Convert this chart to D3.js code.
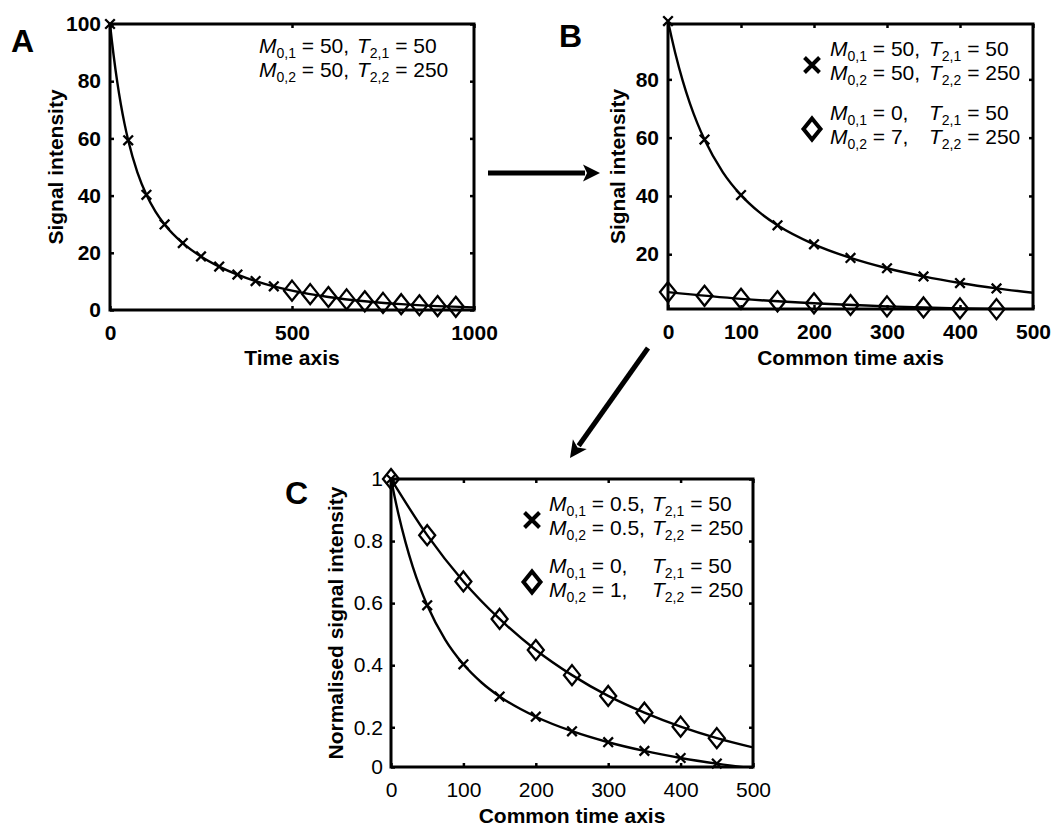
<!DOCTYPE html>
<html>
<head>
<meta charset="utf-8">
<script src="https://cdn.jsdelivr.net/npm/d3@7"></script>
<style>
  body { margin: 0; background: #fff; }
  text { font-family: "Liberation Sans", Arial, sans-serif; fill: #000; white-space: pre; }
</style>
</head>
<body>
<svg id="fig" width="1051" height="826"></svg>
<script>
// ---- data ----
const lineTimeFull = [0, 5, 10, 20, 30, 40, 50, 75, 100, 125, 150, 200, 250, 300, 350, 400, 450, 500, 600, 700, 800, 900, 1000];
const lineSignalFull = [100, 94.25, 88.98, 79.68, 71.79, 65.08, 59.33, 48.20, 40.29, 34.43, 29.93, 23.39, 18.73, 15.18, 12.38, 10.11, 8.27, 6.77, 4.54, 3.04, 2.04, 1.37, 0.92];

const crossTimes = [0, 50, 100, 150, 200, 250, 300, 350, 400, 450];
const crossSignal = [100, 59.33, 40.29, 29.93, 23.39, 18.73, 15.18, 12.38, 10.11, 8.27];

const diamondTimesA = [500, 550, 600, 650, 700, 750, 800, 850, 900, 950];
const diamondSignalA = [6.77, 5.54, 4.54, 3.71, 3.04, 2.49, 2.04, 1.67, 1.37, 1.12];

const lineTimeCommon = [0, 5, 10, 20, 30, 40, 50, 75, 100, 125, 150, 200, 250, 300, 350, 400, 450, 500];
const lineSignalCommon = [100, 94.25, 88.98, 79.68, 71.79, 65.08, 59.33, 48.20, 40.29, 34.43, 29.93, 23.39, 18.73, 15.18, 12.38, 10.11, 8.27, 6.77];

const diamondTimes = [0, 50, 100, 150, 200, 250, 300, 350, 400, 450];
const diamondSignalB = [7.00, 5.73, 4.69, 3.84, 3.15, 2.58, 2.11, 1.73, 1.41, 1.16];
const diamondLineTimeB = [0, 100, 200, 300, 400, 500];
const diamondLineSignalB = [7.00, 4.69, 3.15, 2.11, 1.41, 0.95];

const crossNorm = [1, 0.593, 0.403, 0.299, 0.234, 0.187, 0.152, 0.124, 0.101, 0.083];
const lineNorm = [1, 0.9425, 0.8898, 0.7968, 0.7179, 0.6508, 0.5933, 0.4820, 0.4029, 0.3443, 0.2993, 0.2339, 0.1873, 0.1518, 0.1238, 0.1011, 0.0827, 0.0677];
const diamondNorm = [1, 0.819, 0.670, 0.549, 0.449, 0.368, 0.301, 0.247, 0.202, 0.165];
const diamondLineTimeC = [0, 50, 100, 150, 200, 250, 300, 350, 400, 450, 500];
const diamondLineNorm = [1, 0.819, 0.670, 0.549, 0.449, 0.368, 0.301, 0.247, 0.202, 0.165, 0.135];

const ticksA_x = [0, 500, 1000];
const ticksA_y = [0, 20, 40, 60, 80, 100];
const ticksB_x = [0, 100, 200, 300, 400, 500];
const ticksB_y = [20, 40, 60, 80];
const ticksC_x = [0, 100, 200, 300, 400, 500];
const ticksC_y = [0.072, 0.2, 0.4, 0.6, 0.8, 1];
const tickLabelsC_y = ['0', '0.2', '0.4', '0.6', '0.8', '1'];

const legendA = [
    {m: '0,1', mv: ' = 50,', t: '2,1', tv: ' = 50'},
    {m: '0,2', mv: ' = 50,', t: '2,2', tv: ' = 250'}
];
const legendB1 = [
    {m: '0,1', mv: ' = 50,', t: '2,1', tv: ' = 50'},
    {m: '0,2', mv: ' = 50,', t: '2,2', tv: ' = 250'}
];
const legendB2 = [
    {m: '0,1', mv: ' = 0,', t: '2,1', tv: ' = 50'},
    {m: '0,2', mv: ' = 7,', t: '2,2', tv: ' = 250'}
];
const legendC1 = [
    {m: '0,1', mv: ' = 0.5,', t: '2,1', tv: ' = 50'},
    {m: '0,2', mv: ' = 0.5,', t: '2,2', tv: ' = 250'}
];
const legendC2 = [
    {m: '0,1', mv: ' = 0,', t: '2,1', tv: ' = 50'},
    {m: '0,2', mv: ' = 1,', t: '2,2', tv: ' = 250'}
];

// ---- drawing ----
const svg = d3.select('#fig');
let clipId = 0;

function crossPath(h) {
    return 'M' + (-h) + ',' + (-h) + 'L' + h + ',' + h + 'M' + (-h) + ',' + h + 'L' + h + ',' + (-h);
}

function diamondPath(w, h) {
    return 'M0,' + (-h) + 'L' + w + ',0L0,' + h + 'L' + (-w) + ',0Z';
}

function makePanel(box, xDomain, yDomain) {
    let panel = {};
    panel.box = box;
    panel.x = d3.scaleLinear().domain(xDomain).range([box.left, box.right]);
    panel.y = d3.scaleLinear().domain(yDomain).range([box.bottom, box.top]);
    panel.g = svg.append('g');
    clipId += 1;
    panel.clip = 'clip' + clipId;
    svg.append('clipPath').attr('id', panel.clip)
        .append('rect')
        .attr('x', box.left).attr('y', box.top)
        .attr('width', box.right - box.left).attr('height', box.bottom - box.top);
    return panel;
}

function drawAxes(panel, s) {
    let box = panel.box;
    let fontWeight = s.boldTicks ? 'bold' : 'normal';

    let bottom = panel.g.append('g')
        .attr('transform', 'translate(0,' + box.bottom + ')')
        .call(d3.axisBottom(panel.x).tickValues(s.xTicks).tickSize(-4).tickPadding(15).tickFormat(d3.format('d')));
    let left = panel.g.append('g')
        .attr('transform', 'translate(' + box.left + ',0)')
        .call(d3.axisLeft(panel.y).tickValues(s.yTicks).tickSize(-4).tickPadding(s.yPad)
            .tickFormat(function (d, i) { return s.yLabels ? s.yLabels[i] : d; }));
    let top = panel.g.append('g')
        .attr('transform', 'translate(0,' + box.top + ')')
        .call(d3.axisTop(panel.x).tickValues(s.xTicks).tickSize(-4).tickFormat(''));
    let right = panel.g.append('g')
        .attr('transform', 'translate(' + box.right + ',0)')
        .call(d3.axisRight(panel.y).tickValues(s.yTicks).tickSize(-4).tickFormat(''));

    [bottom, left, top, right].forEach(function (a) {
        a.select('.domain').remove();
        a.selectAll('line').attr('stroke', '#000').attr('stroke-width', 2.5);
        a.selectAll('text')
            .attr('font-family', '"Liberation Sans", Arial, sans-serif')
            .attr('font-size', s.tickSize)
            .attr('font-weight', fontWeight)
            .attr('fill', '#000');
    });

    panel.g.append('rect')
        .attr('x', box.left).attr('y', box.top)
        .attr('width', box.right - box.left).attr('height', box.bottom - box.top)
        .attr('fill', 'none').attr('stroke', '#000').attr('stroke-width', 3);

    panel.g.append('text')
        .attr('x', (box.left + box.right) / 2).attr('y', box.bottom + s.xLabelOffset)
        .attr('text-anchor', 'middle').attr('font-size', 21).attr('font-weight', 'bold')
        .text(s.xLabel);

    panel.g.append('text')
        .attr('transform', 'translate(' + s.yLabelX + ',' + ((box.top + box.bottom) / 2) + ') rotate(-90)')
        .attr('text-anchor', 'middle').attr('font-size', 21).attr('font-weight', 'bold')
        .text(s.yLabel);

    panel.g.append('text')
        .attr('x', s.letter.x).attr('y', s.letter.y)
        .attr('font-size', 32).attr('font-weight', 'bold')
        .text(s.letter.text);
}

function drawLine(panel, xs, ys) {
    let line = d3.line()
        .x(function (d, i) { return panel.x(xs[i]); })
        .y(function (d, i) { return panel.y(ys[i]); })
        .curve(d3.curveMonotoneX);
    panel.g.append('path')
        .datum(xs)
        .attr('clip-path', 'url(#' + panel.clip + ')')
        .attr('d', line)
        .attr('fill', 'none').attr('stroke', '#000').attr('stroke-width', 2.4);
}

function drawMarkers(panel, xs, ys, shape) {
    panel.g.selectAll(null)
        .data(xs).enter().append('path')
        .attr('transform', function (d, i) { return 'translate(' + panel.x(d) + ',' + panel.y(ys[i]) + ')'; })
        .attr('d', shape === 'cross' ? crossPath(4.8) : diamondPath(8, 10))
        .attr('fill', 'none').attr('stroke', '#000').attr('stroke-width', 2.3);
}

function drawLegend(g, entries, mx, tx, y0, marker) {
    entries.forEach(function (e, i) {
        let y = y0 + i * 24;
        let tm = g.append('text').attr('x', mx).attr('y', y).attr('font-size', 21);
        tm.append('tspan').attr('font-style', 'italic').text('M');
        tm.append('tspan').attr('font-size', 14).attr('dy', 5).text(e.m);
        tm.append('tspan').attr('dy', -5).text(e.mv);
        let tt = g.append('text').attr('x', tx).attr('y', y).attr('font-size', 21);
        tt.append('tspan').attr('font-style', 'italic').text('T');
        tt.append('tspan').attr('font-size', 14).attr('dy', 5).text(e.t);
        tt.append('tspan').attr('dy', -5).text(e.tv);
    });
    if (marker) {
        let my = y0 + 9;
        g.append('path')
            .attr('transform', 'translate(' + marker.x + ',' + my + ')')
            .attr('d', marker.shape === 'cross' ? crossPath(7.5) : diamondPath(8.5, 10.5))
            .attr('fill', 'none').attr('stroke', '#000').attr('stroke-width', 4);
    }
}

function drawArrow(x1, y1, x2, y2) {
    let angle = Math.atan2(y2 - y1, x2 - x1);
    let len = 17, half = 8.5;
    let bx = x2 - len * Math.cos(angle), by = y2 - len * Math.sin(angle);
    svg.append('line')
        .attr('x1', x1).attr('y1', y1).attr('x2', bx + 2 * Math.cos(angle)).attr('y2', by + 2 * Math.sin(angle))
        .attr('stroke', '#000').attr('stroke-width', 5);
    let px = -Math.sin(angle), py = Math.cos(angle);
    svg.append('path')
        .attr('d', 'M' + x2 + ',' + y2 +
            'L' + (bx + half * px) + ',' + (by + half * py) +
            'L' + (bx + 4 * Math.cos(angle)) + ',' + (by + 4 * Math.sin(angle)) +
            'L' + (bx - half * px) + ',' + (by - half * py) + 'Z')
        .attr('fill', '#000');
}

// Panel A
let pA = makePanel({left: 110, top: 24, right: 474, bottom: 310}, [0, 1000], [0, 100]);
drawLine(pA, lineTimeFull, lineSignalFull);
drawMarkers(pA, crossTimes, crossSignal, 'cross');
drawMarkers(pA, diamondTimesA, diamondSignalA, 'diamond');
drawAxes(pA, {
    xTicks: ticksA_x, yTicks: ticksA_y, yPad: 9, tickSize: 21, boldTicks: true,
    xLabel: 'Time axis', xLabelOffset: 55, yLabel: 'Signal intensity', yLabelX: 63,
    letter: {text: 'A', x: 11, y: 52}
});
drawLegend(pA.g, legendA, 259, 357, 53, null);

// Panel B
let pB = makePanel({left: 668, top: 24, right: 1033, bottom: 309}, [0, 500], [1.2, 99]);
drawLine(pB, lineTimeCommon, lineSignalCommon);
drawLine(pB, diamondLineTimeB, diamondLineSignalB);
drawMarkers(pB, crossTimes, crossSignal, 'cross');
drawMarkers(pB, diamondTimes, diamondSignalB, 'diamond');
drawAxes(pB, {
    xTicks: ticksB_x, yTicks: ticksB_y, yPad: 9, tickSize: 21, boldTicks: true,
    xLabel: 'Common time axis', xLabelOffset: 56, yLabel: 'Signal intensity', yLabelX: 625,
    letter: {text: 'B', x: 559, y: 47}
});
drawLegend(pB.g, legendB1, 830, 929, 56, {x: 812, shape: 'cross'});
drawLegend(pB.g, legendB2, 830, 929, 120, {x: 812, shape: 'diamond'});

// Panel C
let pC = makePanel({left: 391, top: 479, right: 753, bottom: 767}, [0, 500], [0.072, 1]);
drawLine(pC, lineTimeCommon, lineNorm);
drawLine(pC, diamondLineTimeC, diamondLineNorm);
drawMarkers(pC, crossTimes, crossNorm, 'cross');
drawMarkers(pC, diamondTimes, diamondNorm, 'diamond');
drawAxes(pC, {
    xTicks: ticksC_x, yTicks: ticksC_y, yLabels: tickLabelsC_y, yPad: 8, tickSize: 21, boldTicks: false,
    xLabel: 'Common time axis', xLabelOffset: 56, yLabel: 'Normalised signal intensity', yLabelX: 343,
    letter: {text: 'C', x: 285, y: 504}
});
drawLegend(pC.g, legendC1, 549, 652, 511, {x: 532, shape: 'cross'});
drawLegend(pC.g, legendC2, 549, 652, 573, {x: 532, shape: 'diamond'});

// arrows between panels
drawArrow(488, 173, 600, 173);
drawArrow(648, 348, 570, 458);
</script>
</body>
</html>
